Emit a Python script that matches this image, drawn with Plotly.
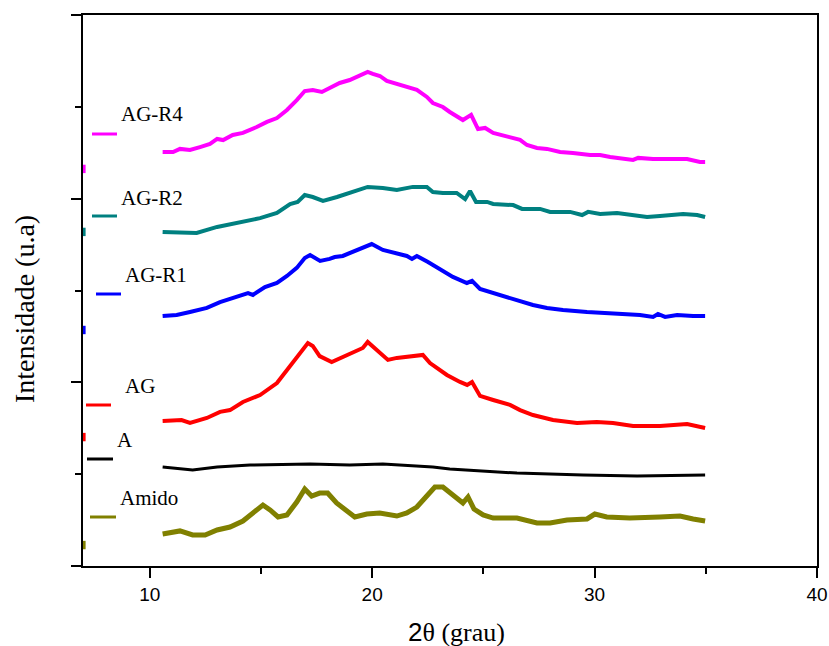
import plotly.graph_objects as go

# X-ray diffractograms (2theta in degrees, intensity in arbitrary units, stacked)
two_theta_r4 = [10.58, 11.05, 11.36, 11.81, 12.26, 12.71, 13.03, 13.30, 13.73, 14.19, 14.81, 15.27,
                15.72, 16.17, 16.61, 16.97, 17.33, 17.74, 18.09, 18.54, 18.99, 19.44, 19.80, 20.03,
                20.35, 20.66, 21.11, 21.56, 22.01, 22.46, 22.73, 23.18, 23.49, 24.08, 24.45, 24.76,
                25.08, 25.44, 26.06, 26.65, 26.96, 27.41, 27.86, 28.45, 29.03, 29.80, 30.25, 30.70,
                31.73, 31.96, 32.63, 33.26, 34.16, 34.74, 34.97]
int_r4 = [225.4, 225.4, 227.1, 226.5, 228.1, 229.8, 232.5, 231.9, 234.7, 235.8, 239.0, 241.8,
          243.9, 248.3, 253.7, 258.6, 259.2, 258.1, 260.3, 263.0, 264.6, 266.8, 269.0, 267.9,
          266.8, 264.1, 262.4, 260.8, 259.2, 255.4, 252.1, 249.9, 247.2, 242.8, 245.6, 237.9,
          238.5, 235.8, 233.6, 232.0, 229.2, 227.6, 227.1, 225.4, 224.9, 223.8, 223.8, 222.7,
          221.1, 222.2, 221.6, 221.6, 221.6, 220.0, 220.0]

two_theta_r2 = [10.58, 12.11, 13.03, 13.92, 14.96, 15.72, 16.31, 16.65, 16.97, 17.33, 17.79, 18.42,
                18.99, 19.44, 19.80, 20.48, 21.11, 21.83, 22.46, 22.73, 23.18, 23.80, 24.18, 24.40,
                24.67, 25.17, 25.44, 26.34, 26.74, 27.55, 28.00, 28.90, 29.44, 29.71, 30.25, 31.01,
                31.73, 32.36, 32.94, 33.98, 34.61, 34.97]
int_r2 = [181.9, 181.3, 184.6, 186.8, 189.4, 192.2, 197.1, 198.2, 202.0, 200.9, 198.8, 200.9,
          203.1, 204.7, 206.4, 205.8, 204.7, 206.4, 206.4, 203.6, 203.1, 203.1, 199.8, 204.2,
          198.2, 198.2, 197.1, 196.5, 194.4, 194.4, 192.8, 192.8, 191.1, 192.8, 191.7, 192.2,
          191.1, 190.0, 190.6, 191.7, 191.1, 190.0]

two_theta_r1 = [10.58, 11.21, 11.81, 12.57, 13.16, 13.74, 14.42, 14.64, 15.18, 15.72, 16.17, 16.61,
                16.97, 17.21, 17.66, 18.09, 18.32, 18.68, 19.13, 19.58, 19.98, 20.48, 21.11, 21.56,
                21.79, 22.01, 22.51, 23.05, 23.63, 24.26, 24.49, 24.85, 25.44, 25.75, 26.33, 27.23,
                27.86, 28.58, 29.66, 30.56, 31.46, 32.04, 32.63, 32.85, 33.17, 33.71, 34.43, 34.97]
int_r1 = [136.1, 136.7, 138.3, 140.5, 143.7, 145.9, 148.6, 147.6, 151.9, 154.1, 157.9, 162.3,
          167.7, 169.3, 166.1, 167.2, 168.2, 168.8, 171.0, 173.2, 175.3, 172.1, 169.9, 168.8,
          167.2, 168.8, 165.5, 161.7, 157.4, 154.1, 155.2, 150.8, 148.6, 147.6, 145.4, 142.1,
          140.5, 139.4, 138.3, 137.8, 137.2, 136.7, 135.6, 137.2, 135.6, 136.7, 136.1, 136.1]

two_theta_ag = [10.58, 11.43, 11.81, 12.57, 13.16, 13.61, 14.19, 14.96, 15.72, 16.17, 16.61, 17.11,
                17.33, 17.64, 18.18, 18.68, 18.99, 19.58, 19.80, 20.21, 20.71, 21.11, 21.70, 22.28,
                22.60, 23.36, 23.95, 24.27, 24.49, 24.85, 25.44, 26.20, 26.65, 27.23, 28.13, 29.21,
                30.10, 30.83, 31.73, 32.94, 34.16, 34.74, 34.97]
int_ag = [79.0, 79.5, 77.9, 80.6, 83.9, 84.9, 89.3, 93.1, 99.6, 106.7, 114.3, 121.4,
          119.8, 114.3, 111.1, 113.8, 116.0, 118.7, 122.0, 117.6, 112.2, 113.3, 114.3, 114.9,
          110.5, 104.0, 100.2, 98.6, 100.2, 92.6, 90.4, 87.7, 84.9, 82.2, 79.5, 77.9,
          78.4, 77.9, 76.2, 76.2, 77.3, 75.7, 75.1]

two_theta_a = [10.58, 11.93, 13.03, 14.51, 17.21, 18.99, 20.48, 22.73, 23.49, 24.99, 26.51, 29.48,
               31.91, 34.97]
int_a = [53.9, 52.3, 53.9, 55.0, 55.5, 55.0, 55.5, 53.9, 52.8, 51.7, 50.6, 49.5, 49.0, 49.5]

two_theta_amido = [10.58, 11.36, 11.93, 12.49, 13.03, 13.61, 14.19, 14.64, 15.09, 15.41, 15.77, 16.17,
                   16.61, 16.97, 17.28, 17.64, 18.00, 18.40, 18.86, 19.22, 19.76, 20.34, 21.11, 21.56,
                   22.01, 22.46, 22.82, 23.18, 23.72, 24.08, 24.31, 24.58, 24.99, 25.44, 26.51, 27.41,
                   28.00, 28.76, 29.66, 30.01, 30.55, 31.58, 32.94, 33.84, 34.43, 34.97]
int_amido = [17.4, 19.1, 16.9, 16.9, 19.6, 21.2, 24.5, 28.9, 33.2, 30.5, 26.7, 27.8,
             34.8, 41.9, 38.1, 39.7, 39.7, 34.3, 29.9, 26.7, 28.3, 28.9, 27.2, 28.9,
             32.1, 38.7, 43.0, 43.0, 37.6, 34.3, 37.6, 31.0, 27.8, 26.1, 26.1, 23.4,
             23.4, 25.0, 25.6, 28.3, 26.7, 26.1, 26.7, 27.2, 25.6, 24.5]

# lone first readings sitting on the left frame
start_theta = 7.05
start_int = [216.2, 181.9, 128.5, 70.2, 11.4]
start_colors = ["#FF00FF", "#008080", "#0000FF", "#FF0000", "#808000"]

series_names = ["AG-R4", "AG-R2", "AG-R1", "AG", "A", "Amido"]
series_x = [two_theta_r4, two_theta_r2, two_theta_r1, two_theta_ag, two_theta_a, two_theta_amido]
series_y = [int_r4, int_r2, int_r1, int_ag, int_a, int_amido]
series_colors = ["#FF00FF", "#008080", "#0000FF", "#FF0000", "#000000", "#808000"]
series_widths = [4, 4, 4, 4, 3, 5]

SERIF = "Liberation Serif"
SANS = "Liberation Sans"

W, H = 829, 646
L, R, T, B = 83, 12, 15, 80
PW, PH = W - L - R, H - T - B


def px(x):
    return (x - L) / PW


def py(y):
    return (H - B - y) / PH


fig = go.Figure()
for name, xs, ys, c, w in zip(series_names, series_x, series_y, series_colors, series_widths):
    fig.add_trace(go.Scatter(x=xs, y=ys, mode="lines", name=name,
                             line=dict(color=c, width=w, shape="linear"),
                             showlegend=False))

fig.add_trace(go.Scatter(x=[start_theta] * len(start_int), y=start_int, mode="markers",
                         marker=dict(symbol="line-ns", size=6,
                                     line=dict(color=start_colors, width=3)),
                         cliponaxis=False, showlegend=False))

# hand-placed key: short sample line plus label for each series
key = [
    # name, line x0, line x1, line y, label x, label y
    ("AG-R4", 92, 117, 134, 119, 114),
    ("AG-R2", 92, 117, 216, 119, 198),
    ("AG-R1", 96, 121, 294, 123, 275),
    ("AG", 86, 111, 405, 123, 386),
    ("A", 87, 113, 459, 115, 440),
    ("Amido", 90, 116, 517, 118, 498),
]
shapes = []
annotations = []
for (name, x0, x1, ly, tx, ty), c in zip(key, series_colors):
    shapes.append(dict(type="line", xref="paper", yref="paper",
                       x0=px(x0), x1=px(x1), y0=py(ly), y1=py(ly),
                       line=dict(color=c, width=3)))
    annotations.append(dict(text=name, xref="paper", yref="paper",
                            x=px(tx), y=py(ty), xanchor="left", yanchor="middle",
                            showarrow=False, font=dict(family=SERIF, size=21, color="#000")))

annotations.append(dict(
    text=f"<span style='font-family:{SANS}'>2</span>θ (grau)",
    xref="paper", yref="paper", x=px(456), y=py(632), xanchor="center", yanchor="middle",
    showarrow=False, font=dict(family=SERIF, size=26, color="#000")))

annotations.append(dict(
    text="Intensidade (u.a)", xref="paper", yref="paper", x=px(24), y=py(309),
    xanchor="center", yanchor="middle", textangle=-90, showarrow=False,
    font=dict(family=SERIF, size=28, color="#000")))

axis_common = dict(showgrid=False, zeroline=False, showline=True, linecolor="#000",
                   linewidth=2, mirror=True, ticks="outside", tickcolor="#000",
                   tickwidth=2, ticklen=10, automargin=False)

fig.update_layout(
    width=W, height=H,
    margin=dict(l=L, r=R, t=T, b=B, pad=0, autoexpand=False),
    paper_bgcolor="white", plot_bgcolor="white",
    xaxis=dict(range=[7, 40], tickvals=[10, 20, 30, 40],
               minor=dict(tickvals=[15, 25, 35], ticks="outside", ticklen=6,
                          tickwidth=2, tickcolor="#000"),
               tickfont=dict(family=SANS, size=19, color="#000"),
               **axis_common),
    yaxis=dict(range=[0, 300], tickvals=[0, 100, 200, 300], showticklabels=False,
               minor=dict(tickvals=[50, 150, 250], ticks="outside", ticklen=6,
                          tickwidth=2, tickcolor="#000"),
               **axis_common),
    shapes=shapes,
    annotations=annotations,
)

fig.write_html("out.html")
